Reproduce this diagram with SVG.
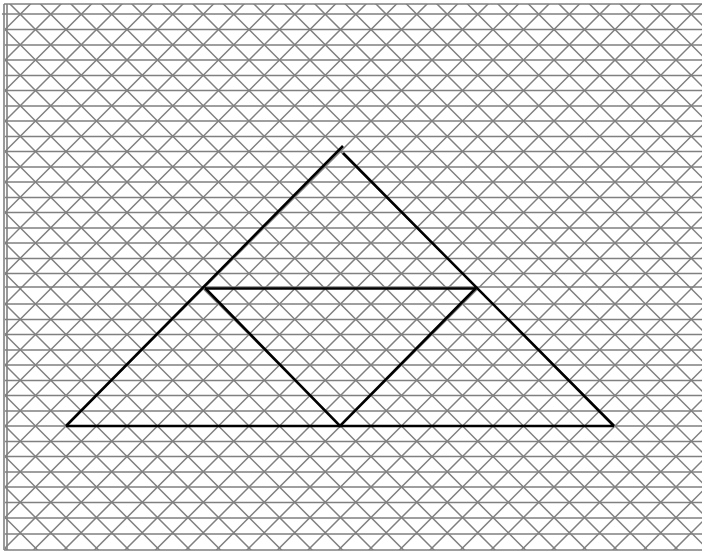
<svg xmlns="http://www.w3.org/2000/svg" width="702" height="554" viewBox="0 0 702 554">
<style>
.diag{stroke:#808080;stroke-width:1.5;fill:none}
.row{stroke:#808080;stroke-width:1.6;fill:none}
.frame{stroke:#808080;stroke-width:1.6;fill:none}
.fig{stroke:#000;stroke-width:2.6;fill:none;stroke-linecap:butt;stroke-linejoin:miter}
</style>
<defs>
<clipPath id="area"><rect x="5" y="4" width="697" height="546"/></clipPath>
</defs>
<rect x="0" y="0" width="702" height="554" fill="#fff"/>
<g id="grid" clip-path="url(#area)">
<path class="diag" d="M-543 0l554 554M-512.5 0l554 554M-482 0l554 554M-451.5 0l554 554M-421 0l554 554M-390.5 0l554 554M-360 0l554 554M-329.5 0l554 554M-299 0l554 554M-268.5 0l554 554M-238 0l554 554M-207.5 0l554 554M-177 0l554 554M-146.5 0l554 554M-116 0l554 554M-85.5 0l554 554M-55 0l554 554M-24.5 0l554 554M6 0l554 554M36.5 0l554 554M67 0l554 554M97.5 0l554 554M128 0l554 554M158.5 0l554 554M189 0l554 554M219.5 0l554 554M250 0l554 554M280.5 0l554 554M311 0l554 554M341.5 0l554 554M372 0l554 554M402.5 0l554 554M433 0l554 554M463.5 0l554 554M494 0l554 554M524.5 0l554 554M555 0l554 554M585.5 0l554 554M616 0l554 554M646.5 0l554 554M677 0l554 554"/>
<path class="diag" d="M34.5 0l-554 554M65 0l-554 554M95.5 0l-554 554M126 0l-554 554M156.5 0l-554 554M187 0l-554 554M217.5 0l-554 554M248 0l-554 554M278.5 0l-554 554M309 0l-554 554M339.5 0l-554 554M370 0l-554 554M400.5 0l-554 554M431 0l-554 554M461.5 0l-554 554M492 0l-554 554M522.5 0l-554 554M553 0l-554 554M583.5 0l-554 554M614 0l-554 554M644.5 0l-554 554M675 0l-554 554M705.5 0l-554 554M736 0l-554 554M766.5 0l-554 554M797 0l-554 554M827.5 0l-554 554M858 0l-554 554M888.5 0l-554 554M919 0l-554 554M949.5 0l-554 554M980 0l-554 554M1010.5 0l-554 554M1041 0l-554 554M1071.5 0l-554 554M1102 0l-554 554M1132.5 0l-554 554M1163 0l-554 554M1193.5 0l-554 554M1224 0l-554 554"/>
</g>
<g id="rows">
<path class="row" d="M2 14H702M5 29.5H702M5 45H702M5 60H702M5 75.5H702M5 90.5H702M5 106H702M5 121H702M5 136.5H702M5 151.5H702M5 167H702M5 182H702M5 197.5H702M5 212.5H702M5 228H702M5 243H702M5 258.5H702M5 273.5H702M5 287H702M5 304H702M5 319.5H702M5 334.5H702M5 350H702M5 365H702M5 380.5H702M5 395.5H702M5 411H702M5 426H702M5 441.5H702M5 456.5H702M5 472H702M5 487H702M5 502.5H702M5 518H702M5 534H702"/>
</g>
<g id="frame">
<path class="frame" d="M4 4H702M4 550H702M4 4V550M7 4V550"/>
</g>
<g id="figure">
<path class="fig" d="M66 426L343 146"/>
<path class="fig" d="M343 153L614 426"/>
<path class="fig" d="M66 426H614"/>
<path class="fig" d="M205 288.5H476"/>
<path class="fig" d="M205 288L340 426L476 288"/>
</g>
</svg>
